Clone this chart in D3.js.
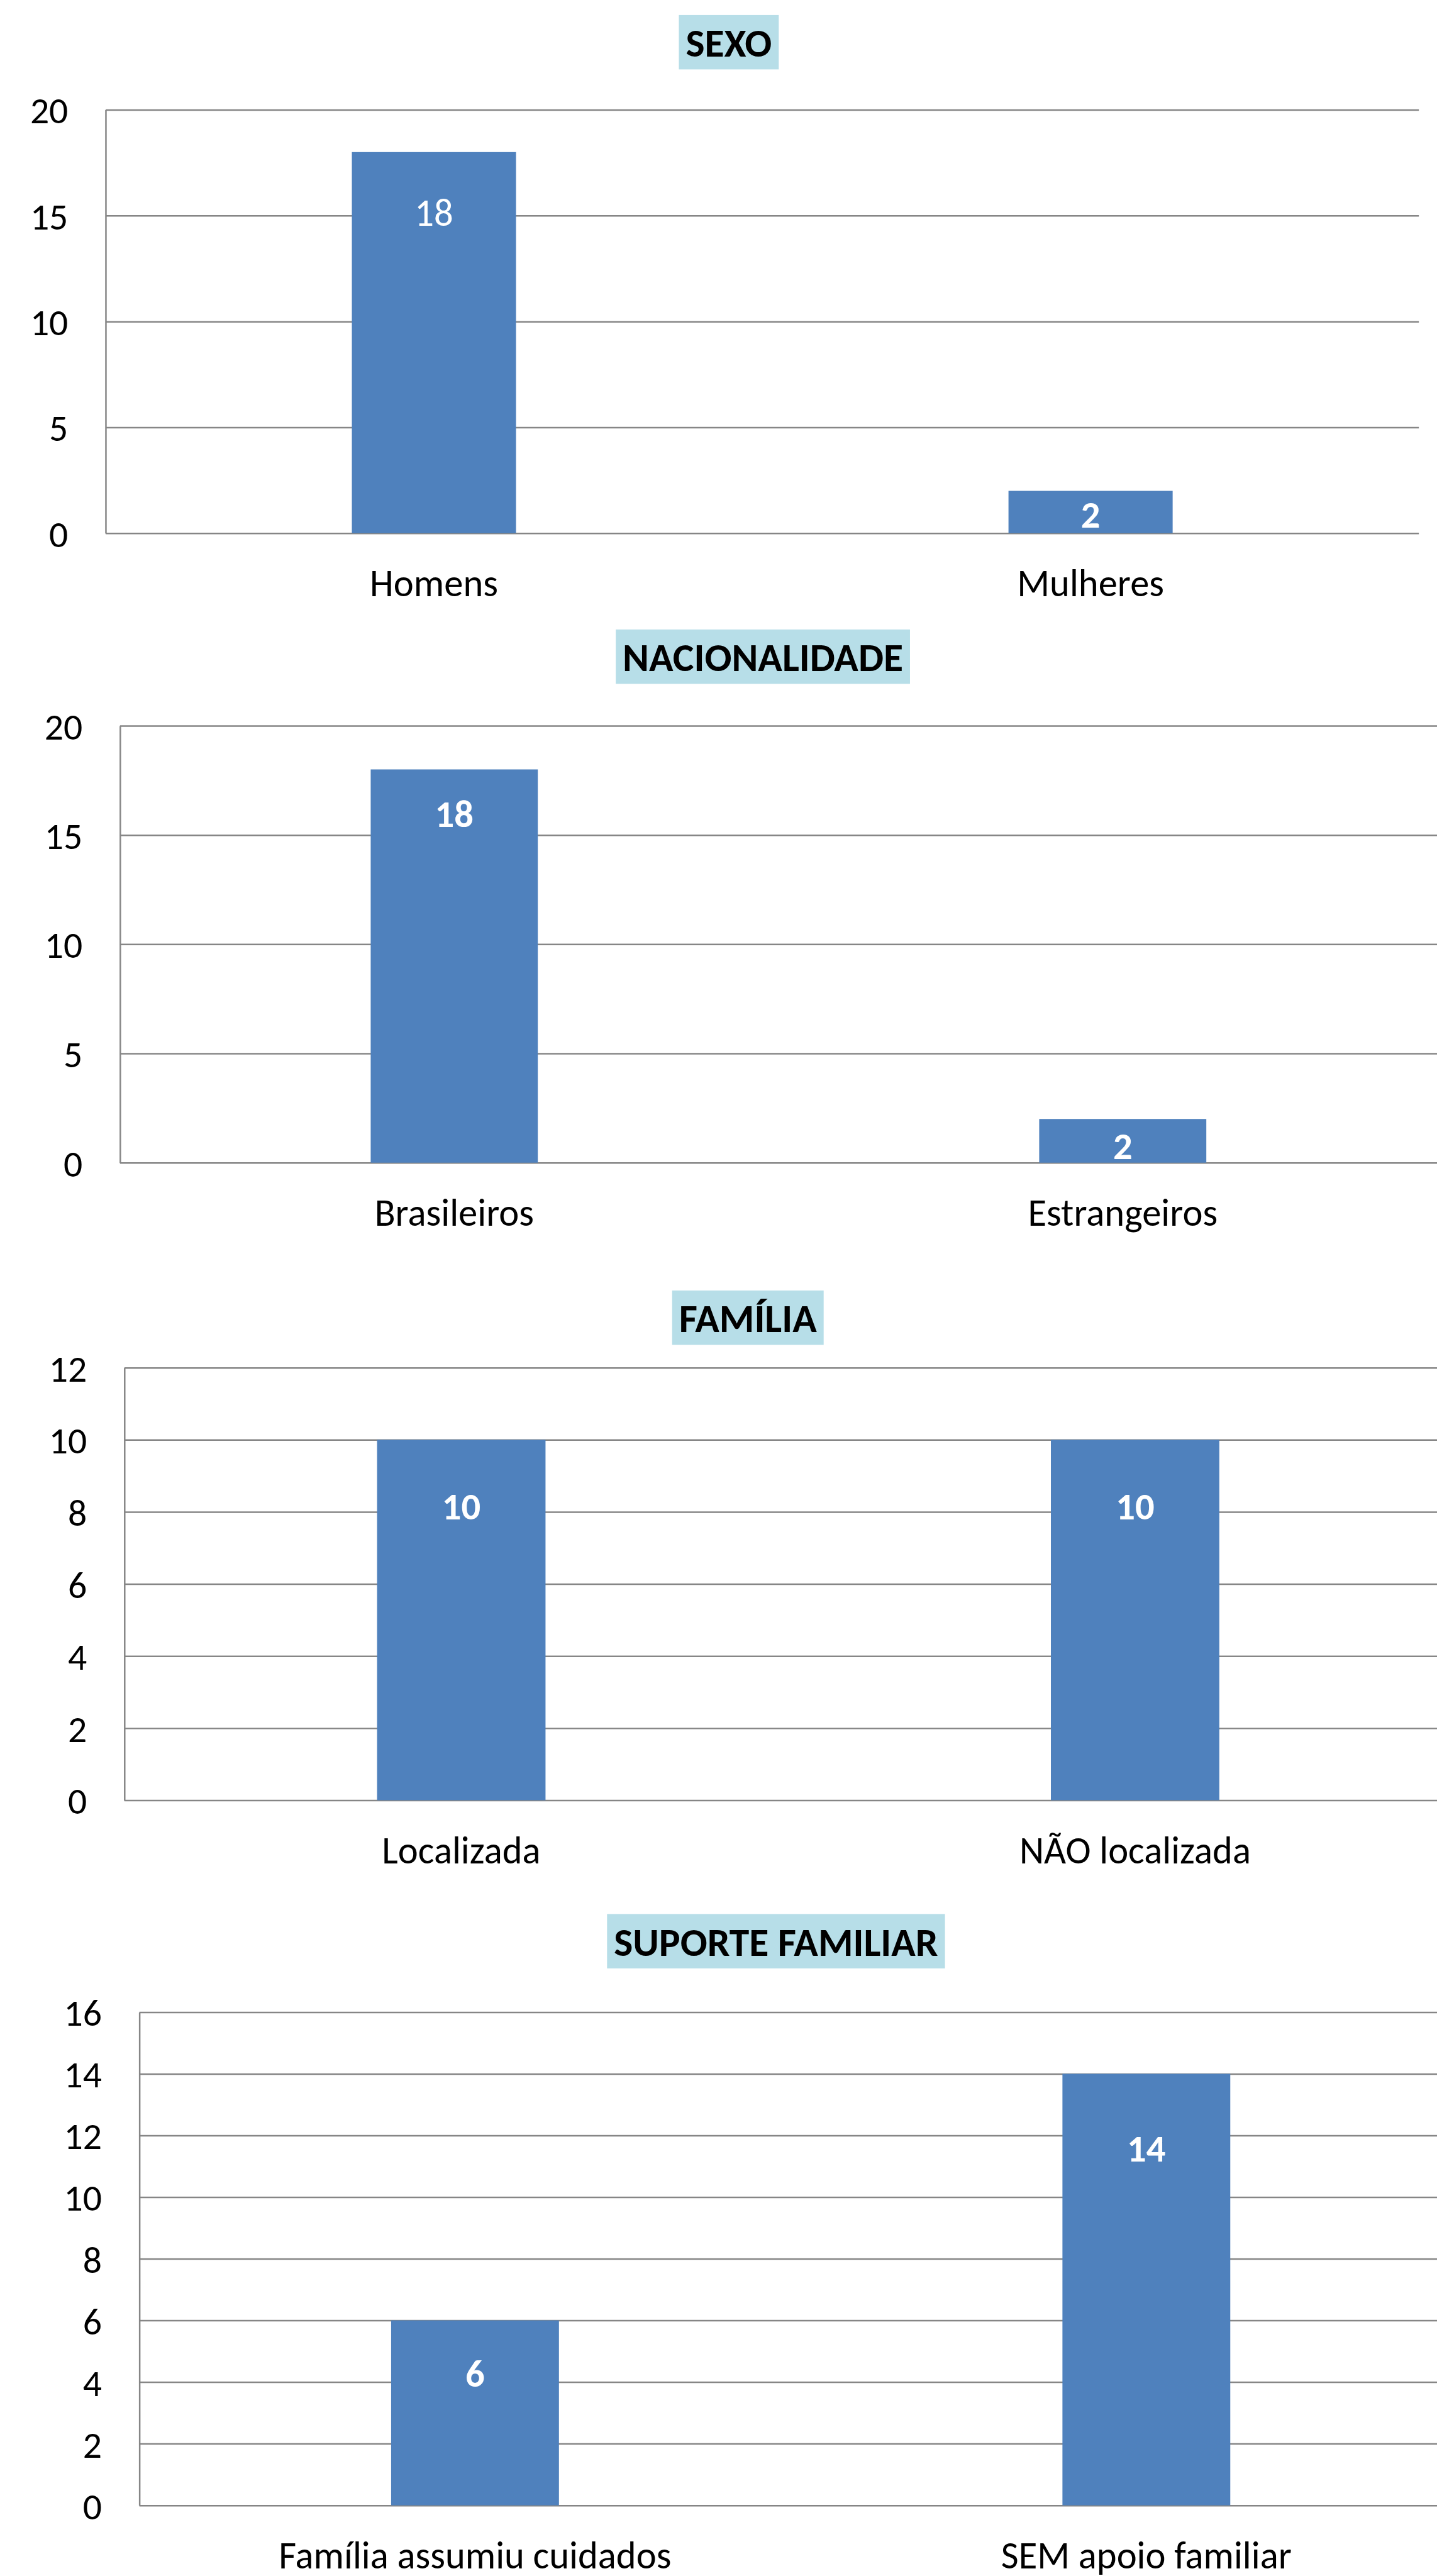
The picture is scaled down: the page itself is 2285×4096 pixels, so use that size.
<!DOCTYPE html>
<html>
<head>
<meta charset="utf-8">
<script src="https://cdn.jsdelivr.net/npm/d3@7"></script>
<style>
	body { margin: 0; background: #fff; }
	svg { display: block; font-family: Carlito, Calibri, Lato, sans-serif; }
	.grid line { stroke: #868686; stroke-width: 2.5; }
	.grid path { stroke: #868686; stroke-width: 2.5; }
	.grid text { fill: #000; font-size: 60px; font-family: Carlito, Calibri, Lato, sans-serif; }
</style>
</head>
<body>
<script>
// data
var titles = ['SEXO', 'NACIONALIDADE', 'FAMÍLIA', 'SUPORTE FAMILIAR']
var sexoCats = ['Homens', 'Mulheres']
var sexoVals = [18, 2]
var nacCats  = ['Brasileiros', 'Estrangeiros']
var nacVals  = [18, 2]
var famCats  = ['Localizada', 'NÃO localizada']
var famVals  = [10, 10]
var supCats  = ['Família assumiu cuidados', 'SEM apoio familiar']
var supVals  = [6, 14]
var yMaxes   = [20, 20, 12, 16]
var ySteps   = [5, 5, 2, 2]

var cats = [sexoCats, nacCats, famCats, supCats]
var vals = [sexoVals, nacVals, famVals, supVals]

// layout, in reference pixels (viewBox does the 0.993 scaling)
var frames = [
	{left:169, top:175.5, bottom:853,  right:2270, tx:1166,   ty:67.5,   labelDy:[96, 37],   bold:[false, true]},
	{left:192, top:1161,  bottom:1860, right:2331, tx:1220.5, ty:1050.5, labelDy:[70, 42],   bold:[true, true]},
	{left:199, top:2188,  bottom:2880, right:2355, tx:1196.5, ty:2108,   labelDy:[105, 105], bold:[true, true]},
	{left:223, top:3219,  bottom:4008, right:2371, tx:1241.5, ty:3105.5, labelDy:[84, 118],  bold:[true, true]}
]

var barColor = '#4F81BD'
var titleFill = '#B7DEE8'
var fs = 61

var svg = d3.select('body').append('svg')
	.attr('width', 2285)
	.attr('height', 4096)
	.attr('viewBox', '0 0 2299 4121')

svg.append('rect').attr('width', 2299).attr('height', 4121).style('fill', '#fff')

function drawChart(i) {
	var f = frames[i]
	var g = svg.append('g')

	var x = d3.scaleBand().domain(cats[i]).range([f.left, f.right])
		.paddingInner(0.75).paddingOuter(0.375)
	var y = d3.scaleLinear().domain([0, yMaxes[i]]).range([f.bottom, f.top])

	// gridlines + left axis
	var ax = g.append('g').attr('class', 'grid')
		.attr('transform', 'translate(' + f.left + ',0)')
		.call(d3.axisLeft(y)
			.tickValues(d3.range(0, yMaxes[i] + 1, ySteps[i]))
			.tickSize(-(f.right - f.left))
			.tickSizeOuter(0)
			.tickPadding(60))
	ax.attr('font-family', null).attr('font-size', null)
	ax.selectAll('text').attr('dy', '0.36em')

	// bars
	g.selectAll('rect.bar').data(vals[i]).enter().append('rect')
		.attr('class', 'bar')
		.attr('x', (d, j) => x(cats[i][j]))
		.attr('y', d => y(d))
		.attr('width', x.bandwidth())
		.attr('height', d => f.bottom - y(d))
		.style('fill', barColor)

	// value labels
	g.selectAll('text.val').data(vals[i]).enter().append('text')
		.attr('class', 'val')
		.attr('x', (d, j) => x(cats[i][j]) + x.bandwidth() / 2)
		.attr('y', (d, j) => y(d) + f.labelDy[j])
		.attr('dy', '0.36em')
		.attr('text-anchor', 'middle')
		.style('fill', '#fff')
		.style('font-size', fs + 'px')
		.style('font-weight', (d, j) => f.bold[j] ? 'bold' : 'normal')
		.text(d => d)

	// category labels
	g.selectAll('text.cat').data(cats[i]).enter().append('text')
		.attr('class', 'cat')
		.attr('x', d => x(d) + x.bandwidth() / 2)
		.attr('y', f.bottom + 101)
		.attr('text-anchor', 'middle')
		.style('font-size', fs + 'px')
		.style('fill', '#000')
		.text(d => d)

	// title box
	var tb = g.append('g')
	var box = tb.append('rect').style('fill', titleFill)
	var tt = tb.append('text')
		.attr('x', f.tx)
		.attr('y', f.ty)
		.attr('dy', '0.36em')
		.attr('text-anchor', 'middle')
		.style('font-size', '64px')
		.style('font-weight', 'bold')
		.style('fill', '#000')
		.text(titles[i])
	var w = tt.node().getComputedTextLength() + 22
	box.attr('x', f.tx - w / 2).attr('y', f.ty - 43.5)
		.attr('width', w).attr('height', 87)
}

titles.forEach((t, i) => drawChart(i))
</script>
</body>
</html>
